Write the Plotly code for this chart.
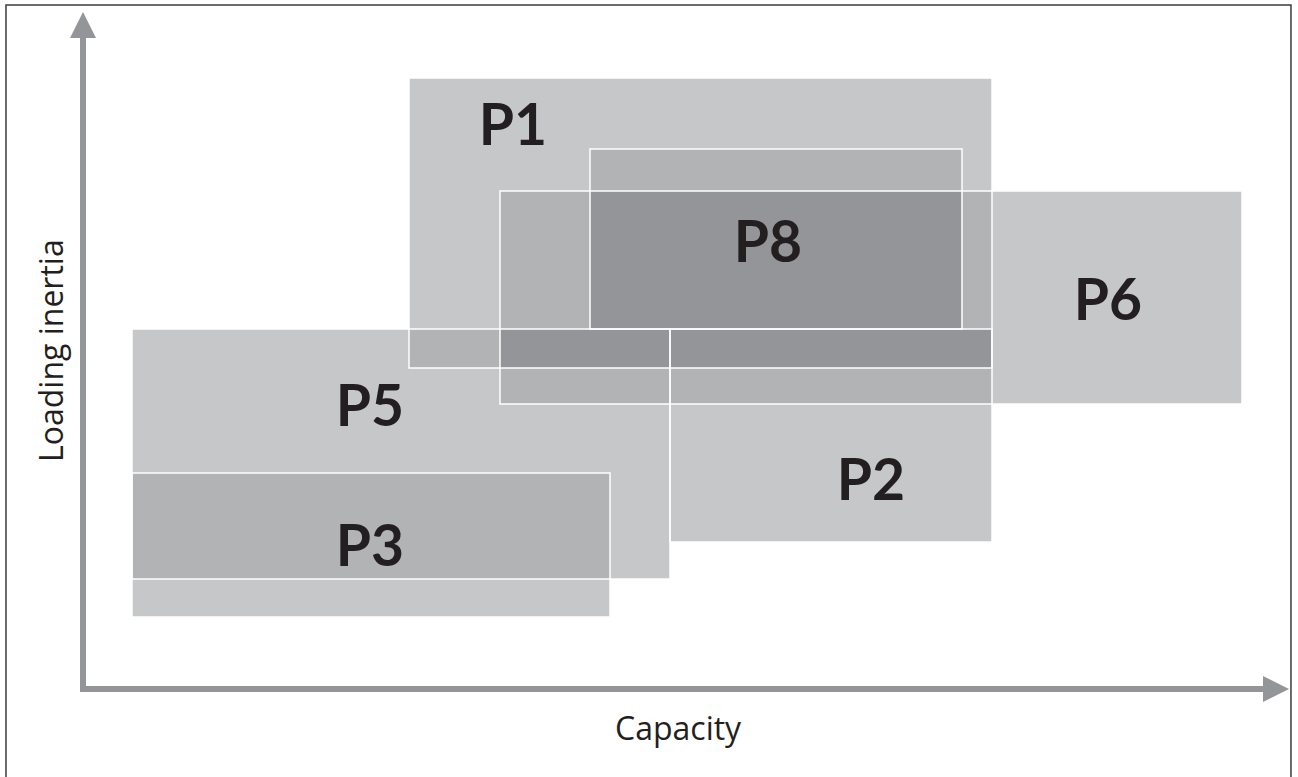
import plotly.graph_objects as go

# product ranges: capacity (x) vs loading inertia (y), arbitrary units
names = ["P1", "P8", "P6", "P2", "P5", "P3"]
cap_min = [32.6, 50.7, 41.7, 58.7, 4.9, 4.9]
cap_max = [90.9, 87.9, 115.9, 90.9, 58.7, 52.7]
inert_min = [32.1, 36.0, 28.5, 14.7, 11.0, 7.2]
inert_max = [61.1, 54.0, 49.8, 36.0, 36.0, 21.6]
label_x = [43.0, 68.5, 102.5, 78.8, 28.7, 28.7]
label_y = [55.8, 44.1, 38.3, 20.3, 27.7, 13.7]

X_MAX, Y_MAX = 120.6, 67.7
AXIS_GRAY = "#939598"
TEXT = "#231f20"

# overlap count on the grid made by all rectangle edges
xe = sorted(set(cap_min + cap_max))
ye = sorted(set(inert_min + inert_max))
z = []
for j in range(len(ye) - 1):
    yc = (ye[j] + ye[j + 1]) / 2
    row = []
    for i in range(len(xe) - 1):
        xc = (xe[i] + xe[i + 1]) / 2
        n = sum(1 for k in range(len(names))
                if cap_min[k] < xc < cap_max[k] and inert_min[k] < yc < inert_max[k])
        row.append(n if n else None)
    z.append(row)

fig = go.Figure()
fig.add_trace(go.Heatmap(
    x=xe, y=ye, z=z, zmin=1, zmax=3, showscale=False, hoverinfo="skip",
    colorscale=[[0, "#c6c7c9"], [0.33, "#c6c7c9"], [0.33, "#b2b3b5"],
                [0.67, "#b2b3b5"], [0.67, "#949599"], [1, "#949599"]],
))

for k in range(len(names)):
    fig.add_shape(type="rect", x0=cap_min[k], x1=cap_max[k], y0=inert_min[k], y1=inert_max[k],
                  line=dict(color="white", width=1.5), fillcolor="rgba(0,0,0,0)", layer="above")

fig.add_trace(go.Scatter(
    x=label_x, y=label_y, text=names, mode="text", hoverinfo="skip",
    textfont=dict(family="Lato", size=57, color=TEXT, weight="bold"),
))

# axis arrows
fig.add_shape(type="line", x0=-0.3, x1=X_MAX - 2.2, y0=0, y1=0, line=dict(color=AXIS_GRAY, width=6))
fig.add_shape(type="line", x0=0, x1=0, y0=-0.3, y1=Y_MAX - 2.2, line=dict(color=AXIS_GRAY, width=6))
fig.add_trace(go.Scatter(
    x=[X_MAX, 0], y=[0, Y_MAX], mode="markers", hoverinfo="skip", cliponaxis=False,
    marker=dict(symbol=["arrow-right", "arrow-up"], size=26, color=AXIS_GRAY, line=dict(width=0)),
))

# frame round the figure
fig.add_shape(type="rect", xref="paper", yref="paper", x0=-0.0465, x1=1.0016, y0=-0.12, y1=1.01,
              line=dict(color="#3c3c3c", width=1.5), fillcolor="rgba(0,0,0,0)")

fig.add_annotation(text="Capacity", xref="x", yref="paper", x=59.5, y=-0.026, showarrow=False,
                   font=dict(family="Open Sans", size=32, color=TEXT), yanchor="middle")
fig.add_annotation(text="Loading inertia", xref="paper", yref="y", x=-0.0106, y=33.8, showarrow=False,
                   textangle=-90, font=dict(family="Open Sans", size=32, color=TEXT),
                   xanchor="center")

fig.update_layout(
    width=1298, height=777, showlegend=False,
    margin=dict(l=63, r=9, t=12, b=68),
    paper_bgcolor="white", plot_bgcolor="white",
    xaxis=dict(range=[-2, X_MAX], visible=False, fixedrange=True),
    yaxis=dict(range=[-2, Y_MAX], visible=False, fixedrange=True),
)

fig.write_html("out.html", config={"displayModeBar": False},
               post_script="document.body.style.margin='0';")
